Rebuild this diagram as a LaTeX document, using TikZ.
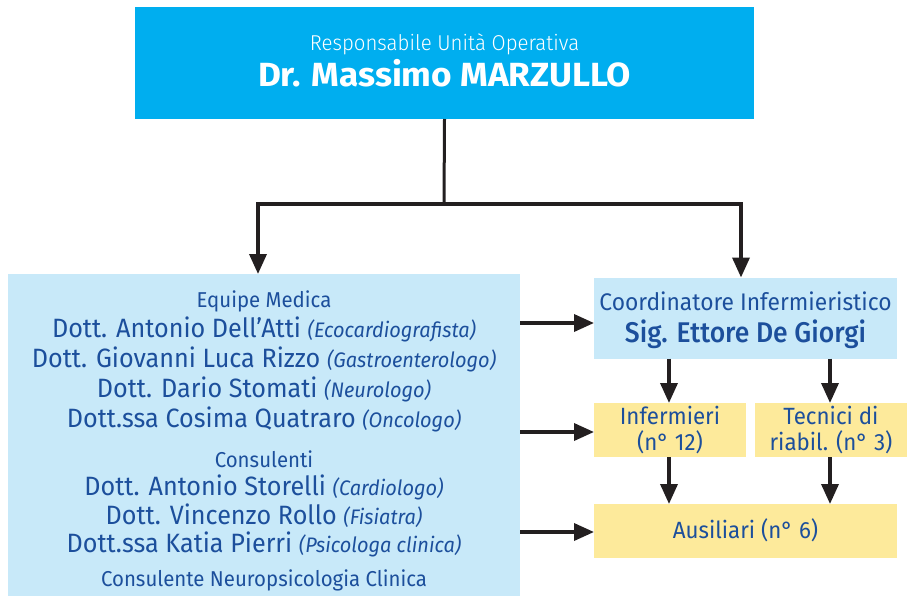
\documentclass[tikz,border=0pt]{standalone}
\usepackage{fontspec}
\setmainfont{Fira Sans}[FakeStretch=0.95]
\newfontfamily\wideboldfont{Fira Sans}[FakeStretch=1.05]
\IfFontExistsTF{Fira Sans Light}{\newfontfamily\lightfont{Fira Sans Light}[FakeStretch=0.95]}{\newcommand\lightfont{\relax}}
\IfFontExistsTF{Fira Sans Medium}{\newfontfamily\medfont{Fira Sans Medium}[FakeStretch=0.93]}{\newcommand\medfont{\relax}}
\usetikzlibrary{arrows.meta}
\definecolor{cyanbox}{HTML}{00AEEF}
\definecolor{lightbox}{HTML}{C8E9F9}
\definecolor{yellowbox}{HTML}{FDEA9B}
\definecolor{txtblue}{HTML}{1C4F9C}
\definecolor{arrowblack}{HTML}{231F20}
\newcommand\namesz{\fontsize{26.5}{31}\selectfont}
\newcommand\specsz{\fontsize{21}{25}\selectfont\itshape}
\newcommand\headsz{\fontsize{21.5}{26}\selectfont}
\newcommand\yelsz{\fontsize{23.5}{28}\selectfont}
\begin{document}
\begin{tikzpicture}[x=1pt,y=-1pt,
  box/.style={rectangle, inner sep=0pt, outer sep=0pt},
  txt/.style={anchor=base, inner sep=0pt, text=txtblue},
  arr/.style={draw=arrowblack, line width=3.5pt, -{Triangle[length=20pt,width=17pt]}},
  link/.style={draw=arrowblack, line width=3pt}
]
\useasboundingbox (0,0) rectangle (907,595);
% boxes
\node[box, fill=cyanbox, minimum width=619pt, minimum height=112pt] (top) at (444.5,63) {};
\node[box, fill=lightbox, minimum width=512pt, minimum height=322pt] (eq) at (264,435) {};
\node[box, fill=lightbox, minimum width=303pt, minimum height=81pt] (coord) at (745.5,318) {};
\node[box, fill=yellowbox, minimum width=152pt, minimum height=54pt] (inf) at (670,430) {};
\node[box, fill=yellowbox, minimum width=152pt, minimum height=54pt] (tec) at (831,430) {};
\node[box, fill=yellowbox, minimum width=303pt, minimum height=54pt] (aus) at (745.5,531) {};
% top texts
\node[anchor=base, inner sep=0pt, text=white, font=\lightfont\fontsize{21.5}{26}\selectfont] (t1) at (444.5,50) {Responsabile Unità Operativa};
\node[anchor=base, inner sep=0pt, text=white, font=\wideboldfont\bfseries\fontsize{33.5}{40}\selectfont] (t2) at (444.5,86) {Dr. Massimo MARZULLO};
% left texts
\node[txt, font=\headsz] (e1) at (264,307) {Equipe Medica};
\node[txt, font=\namesz] (e2) at (264,337) {Dott. Antonio Dell’Atti {\specsz (Ecocardiografista)}};
\node[txt, font=\namesz] (e3) at (264,367) {Dott. Giovanni Luca Rizzo {\specsz (Gastroenterologo)}};
\node[txt, font=\namesz] (e4) at (264,397) {Dott. Dario Stomati {\specsz (Neurologo)}};
\node[txt, font=\namesz] (e5) at (264,427) {Dott.ssa Cosima Quatraro {\specsz (Oncologo)}};
\node[txt, font=\headsz] (c1) at (264,467) {Consulenti};
\node[txt, font=\namesz] (c2) at (264,495) {Dott. Antonio Storelli {\specsz (Cardiologo)}};
\node[txt, font=\namesz] (c3) at (264,524) {Dott. Vincenzo Rollo {\specsz (Fisiatra)}};
\node[txt, font=\namesz] (c4) at (264,552) {Dott.ssa Katia Pierri {\specsz (Psicologa clinica)}};
\node[txt, font=\headsz] (c5) at (264,586) {Consulente Neuropsicologia Clinica};
% right texts
\node[txt, font=\fontsize{24}{29}\selectfont] (r1) at (745.5,310) {Coordinatore Infermieristico};
\node[txt, font=\medfont\fontsize{28.5}{34}\selectfont] (r2) at (745.5,342) {Sig. Ettore De Giorgi};
\node[txt, font=\yelsz] (i1) at (670,424) {Infermieri};
\node[txt, font=\yelsz] (i2) at (670,450) {(n° 12)};
\node[txt, font=\yelsz] (k1) at (831,424) {Tecnici di};
\node[txt, font=\yelsz] (k2) at (831,450) {riabil. (n° 3)};
\node[txt, font=\yelsz] (a1) at (745.5,538) {Ausiliari (n° 6)};
% connectors
\coordinate (split) at (444,204);
\draw[link] (top.south) -- (split);
\coordinate (lt) at ([xshift=-6pt]eq.north);
\coordinate (rt) at ([xshift=-4.5pt]coord.north);
\draw[arr] (split) -| (lt);
\draw[arr] (split) -| (rt);
\coordinate (h1) at ([yshift=-5pt]coord.west);
\coordinate (h2) at ([yshift=-2pt]inf.west);
\coordinate (h3) at ([yshift=-1pt]aus.west);
\draw[arr] (h1 -| eq.east) -- (h1);
\draw[arr] (h2 -| eq.east) -- (h2);
\draw[arr] (h3 -| eq.east) -- (h3);
\coordinate (ia) at ([xshift=-1pt]inf.north);
\coordinate (ka) at ([xshift=-1pt]tec.north);
\coordinate (ib) at ([xshift=-1pt]inf.south);
\coordinate (kb) at ([xshift=-1pt]tec.south);
\draw[arr] (ia |- coord.south) -- (ia);
\draw[arr] (ka |- coord.south) -- (ka);
\draw[arr] (ib) -- (ib |- aus.north);
\draw[arr] (kb) -- (kb |- aus.north);
\end{tikzpicture}
\end{document}
